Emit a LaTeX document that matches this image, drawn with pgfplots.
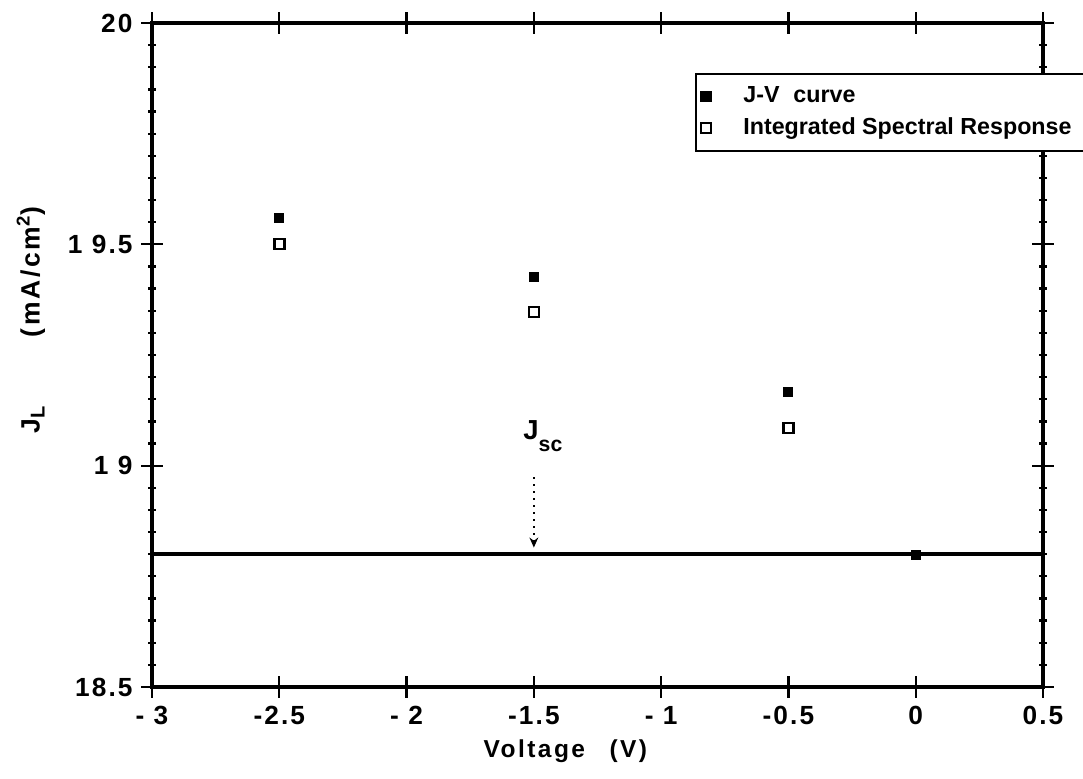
\documentclass[border=0pt]{standalone}
\usepackage{fontspec}
\setmainfont{Liberation Sans}
\usepackage{pgfplots}
\pgfplotsset{compat=1.18}
\usetikzlibrary{arrows.meta}

\begin{document}
\begin{tikzpicture}[font=\fontsize{9.5}{11}\selectfont\bfseries]
\path[use as bounding box] (-60.8pt,-36.4pt) rectangle (372.4pt,274.8pt);
\begin{axis}[
  scale only axis, width=356.4pt, height=265.6pt,
  at={(0,0)}, anchor=south west,
  xmin=-3, xmax=0.5, ymin=18.5, ymax=20,
  xtick={-3,-2.5,-2,-1.5,-1,-0.5,0,0.5},
  xticklabels={- 3,-2.5,- 2,-1.5,- 1,-0.5,0,0.5},
  ytick={18.5,19,19.5,20},
  yticklabels={18.5,1 9,1 9.5,20},
  minor y tick num=9,
  tick align=center, major tick length=8.5pt, minor tick length=3pt,
  every tick/.style={black, line width=0.9pt},
  axis line style={line width=1.4pt},
  tick label style={font=\fontsize{10.5}{12}\selectfont\bfseries\addfontfeature{LetterSpace=8}},
  label style={font=\fontsize{9.8}{11}\selectfont\bfseries\addfontfeature{LetterSpace=10}},
  xlabel={Voltage\hspace{1em}(V)},
  xlabel style={at={(axis description cs:0.464,0)}, anchor=base, yshift=-28pt},
  ylabel={J\raisebox{-2pt}{\fontsize{8}{9}\selectfont L}\hspace{2.6em}(mA/cm\textsuperscript{2})},
  ylabel style={at={(axis description cs:-0.136,0.553)}, anchor=center,
    font=\fontsize{10.6}{12}\selectfont\bfseries\addfontfeature{LetterSpace=10}},
  legend style={at={(axis description cs:0.609,0.925)}, anchor=north west,
    draw=black, line width=1pt, fill=white,
    font=\fontsize{9.3}{11}\selectfont\bfseries,
    row sep=0.6pt, inner xsep=2pt, inner ysep=3pt},
  legend cell align=left,
]
\addplot[only marks, mark=square*, mark size=1.8pt, black]
  coordinates {(-2.5,19.56) (-1.5,19.426) (-0.5,19.166) (0,18.798)};
\addlegendentry{\hspace*{11pt}\makebox[138pt][l]{J-V\hspace{0.6em}curve}}
\addplot[only marks, mark=square, mark size=2pt, black, mark options={line width=1pt}]
  coordinates {(-2.5,19.501) (-1.5,19.347) (-0.5,19.085)};
\addlegendentry{\hspace*{11pt}\makebox[138pt][l]{Integrated Spectral Response}}
\addplot[black, line width=1.4pt, forget plot] coordinates {(-3,18.80) (0.5,18.80)};
\node[anchor=base west, font=\fontsize{11}{13}\selectfont\bfseries, inner sep=0pt]
  at (axis cs:-1.543,19.058) {J\raisebox{-4.5pt}{\fontsize{8.5}{10}\selectfont sc}};
\draw[black, dotted, line width=0.8pt, -{Stealth[length=4pt,width=3.5pt]}]
  (axis cs:-1.5,18.974) -- (axis cs:-1.5,18.815);
\end{axis}
\end{tikzpicture}
\end{document}
